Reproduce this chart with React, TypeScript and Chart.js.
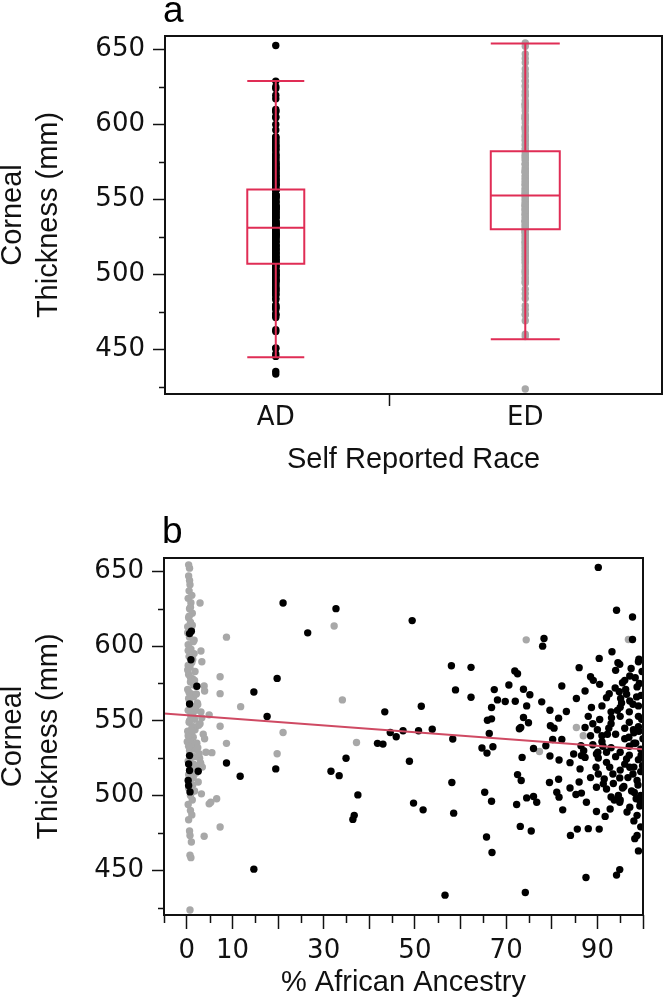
import React, { useEffect, useRef } from 'react';
import { Chart, registerables } from 'chart.js';

Chart.register(...registerables);

// ---------- Panel a: box plot ----------
const categories = ['AD', 'ED'];
const categoryPositions = [1, 2];
const categorySeparator = 1.456;
const boxQ1 = [507, 530];
const boxMedian = [531, 552.5];
const boxQ3 = [556.5, 582];
const whiskerLow = [444.5, 456.5];
const whiskerHigh = [629, 654];

// ---------- shared y axis ----------
const yTickValues = [450, 500, 550, 600, 650];
const yMinorTicks = [425, 475, 525, 575, 625];

// ---------- Panel b: x axis ----------
const xTickValues = [0, 10, 20, 30, 40, 50, 60, 70, 80, 90, 100];
const xTickLabels = [0, 10, 30, 50, 70, 90];
const xMinorTicks = [-5, 5, 15, 25, 35, 45, 55, 65, 75, 85, 95];

// AD (self reported African descent) subjects: % African ancestry, corneal thickness
const adX = [
  21.1, 32.7, 26.5, 0.6, 1.0, 0.9, 19.8, 2.2, 14.7, 0.6, 43.4, 17.6, 44.6, 45.9, 47.4, 41.8, 43, 48.8,
  0.6, 0.4, 0.6, 2.5, 8.7, 34.9, 19.5, 31.6, 33.4, 11.7, 0.3, 0.4, 0.7, 37.5, 36.7, 36.4, 14.7,
  90.2, 49.4, 94.2, 97.7, 78.3, 78.0, 97.7, 58, 62.3, 93.2, 90.4, 99.1, 99, 86, 94.5, 94.9, 94, 71.9,
  72.5, 58.9, 62.3, 51.4, 67.4, 70.6, 73.8, 75.2, 68.1, 69.8, 72, 74.5, 66.8, 77.8, 82.2, 85.4, 87.3,
  88.5, 89.1, 90.5, 88.7, 92, 92.6, 90.5, 94.8, 95.5, 96, 97.1, 98.3, 98.7, 96.4, 97.1, 97.8, 79.6,
  83.2, 81.5, 73.8, 65.9, 66.8, 74.9, 72.9, 73.2, 66.3, 79.7, 80.5, 87.3, 88.5, 80.2, 82.2, 78.7, 76,
  73.5, 64.7, 65.8, 67.1, 58.3, 53.8, 50.8, 79.6, 81.6, 84, 84.8, 86.5, 87.3, 86.4, 89.8, 90.2, 86.2,
  89.7, 90.2, 92, 92.7, 93.4, 94.9, 96.4, 97.1, 97.8, 98.7, 72.5, 73.3, 58.1, 79.5, 81.5, 81.1, 81.6,
  65.3, 66.8, 72.3, 74.5, 76, 76.7, 82.4, 85.3, 86.5, 87.6, 89.8, 91.3, 92, 89.8, 94.9, 97.1, 98.5,
  98.7, 49.7, 51.8, 58.5, 73.1, 75.5, 65.7, 66.9, 84.1, 85.6, 88, 90.4, 98.2, 98.7, 99, 87.5, 94.2,
  94.9, 56.6, 74.2,
  91, 93, 95, 97, 99, 92.5, 94, 96, 98, 99.5, 91, 93, 95, 97, 99, 92, 94, 96, 98, 99.5, 91.5, 93.5,
  95.5, 97.5, 99.5, 93, 95, 96.5, 98, 99.5, 95, 97, 99, 96, 98, 88, 89, 90, 91, 89, 87, 88.5, 86, 84,
  99, 99.6, 100, 97, 93, 95,
  99.8, 99.2, 98.6, 99.7, 99.1, 98.4, 99.6, 99.9, 98.9, 99.3, 97.4, 96.2, 95.3, 94.4, 93.1, 92.2,
  91.2, 90.1, 96.7, 95.8, 94.6, 93.7, 92.8, 91.7, 97.9, 96.9, 99.4, 98.1, 95.1, 93.9,
];
const adY = [
  628.9, 625.1, 608.9, 608.4, 610, 590.9, 578.4, 573.1, 569.3, 561.3, 556, 552.9, 542.2, 539.3, 543.3,
  534.9, 534.4, 522.9, 526.7, 521.1, 516.7, 516.2, 521.8, 524.9, 517.8, 516.2, 513.3, 512.9, 510, 506.7,
  502.4, 500.4, 486.7, 484, 450.7,
  652.7, 617.1, 624, 619.5, 605.1, 600, 604.4, 586.9, 585.8, 596.2, 591.8, 591.3, 589.5, 585.6, 588.9,
  587.8, 583.8, 583.3, 581.5, 570.7, 565.8, 559.8, 570.9, 574, 571.1, 567.5, 564, 562.9, 563.1, 560,
  558.9, 562.7, 573.3, 564.9, 570, 579.5, 577.1, 574.4, 558.9, 565.5, 568.2, 550.9, 569.5, 575.5, 577.1,
  580, 578.9, 572.7, 567.8, 563.3, 561.1, 557.1, 556.2, 551.8, 552.2, 550.4, 551.3, 548.7, 544.7, 545.5,
  541.5, 546.7, 545.1, 545.5, 540, 537.5, 537.5, 533.3, 531.5, 525.5, 531.8, 528.4, 532.6, 537.8, 544.4,
  543.3, 526.4, 523.8, 522, 527.8, 526.7, 525.5, 533.3, 527.8, 525.1, 517.8, 518.9, 514.4, 522.2, 518.9,
  514.4, 511.8, 524.4, 518.9, 514.4, 510, 514, 510, 508.7, 508.7, 510.9, 502.2, 498.9, 502.2, 496.2, 494,
  498.4, 499.3, 495.5, 490.4, 500.7, 501.6, 495.5, 505.5, 507.8, 504.4, 489.3, 495.5, 492.2, 497.8,
  486.7, 494.9, 490.4, 488.2, 479.3, 476.2, 472.2, 461.8, 473.3, 477.5, 477.8, 477.5, 471.1, 473.3,
  462.9, 445.1, 446.7, 450.4, 433.3, 435.1,
  560, 556, 553, 549, 546, 545, 541, 538, 535, 531, 536, 532, 529, 527, 524, 529, 526, 521, 519, 516,
  511, 508, 505, 503, 500, 499, 497, 489, 483, 479, 559, 556, 553, 545, 542, 553, 548, 544, 540, 534,
  530, 512, 509, 505, 560, 567, 538, 533, 548, 517,
  583, 575, 566, 551, 543, 535, 527, 520, 507, 493, 585, 571, 562, 557, 552, 541, 533, 529, 512, 506,
  500, 497, 491, 486, 544, 539, 496, 502, 565, 572,
];

// ED (self reported European descent) subjects
const edX = [
  2.9, 8.7, 3.1, 3.3, 7.3, 3.8, 3.9, 7.3, 11.8, 34.1, 32.3, 4.9, 7.3, 21.1, 8.7, 37.2, 5.5, 19.8, 3.05,
  3.2, 4.9, 5.25, 6.55, 7.3, 3.8, 0.4, 0.6, 0.7, 1, 0.7, 0.9, 0.7, 0.4, 0.6, 0.7,
  74.4, 96.8, 85.4, 86.9, 77.3,
  0.5, 0.3, 0.9, 0.6, 1.2, 0.4, 0.8, 0.2, 1.0, 0.6, 1.4, 0.3, 0.9, 1.6, 0.5, 1.1, 0.7, 1.8, 0.4, 1.3,
  0.8, 2.1, 0.2, 1.0, 1.5, 0.6, 2.4, 1.2, 0.3, 3.1, 0.9, 1.7, 0.5, 2.6, 1.1, 0.2, 3.6, 1.4, 0.7, 2.2,
  0.4, 1.9, 4.2, 0.9, 2.8, 0.3, 1.5, 3.4, 0.7, 2.0, 1.1, 0.5, 2.5, 1.3, 0.4, 1.7, 0.8, 1.2, 0.3, 0.8,
  1.1,
  0.6, 1.0, 0.3, 0.8, 1.5, 0.4, 0.9, 2.0, 1.3, 0.6, 2.9, 1.8, 0.3, 3.9, 1.0, 2.4, 0.6, 1.6, 3.0, 0.9,
  2.2, 0.4, 1.4, 0.8, 0.2, 1.2, 0.5, 0.8, 1.1, 0.6, 0.4,
  1.3, 0.2, 1.7, 0.5, 2.3, 0.9, 1.4, 0.1, 2.7, 0.7, 1.9, 0.4, 3.3, 1.2, 0.6, 2.1, 0.3, 1.6, 0.8, 1.0,
];
const edY = [
  628.9, 606, 596.7, 589.5, 579.5, 573.3, 570, 568.2, 559.5, 564, 613.5, 554, 546.4, 542.2, 534.9, 535.5,
  528.7, 528, 521.1, 501.1, 494.4, 495.5, 497.8, 478.9, 472.7, 483.8, 476.2, 473.3, 468.9, 460, 458.4,
  423.3, 654.4, 652.2, 641.1,
  604.2, 604.4, 545.5, 540, 529.5,
  637, 632, 629, 625, 622, 619, 616, 613, 611, 606, 603, 601, 598, 595, 593, 589, 586, 583, 581, 578,
  576, 573, 571, 568, 566, 563, 561, 559, 557, 556, 553, 551, 549, 547, 545, 543, 541, 539, 537, 535,
  533, 531, 529, 527, 525, 523, 521, 519, 517, 515, 513, 511, 509, 507, 505, 503, 500, 497, 494, 490,
  487,
  598.5, 592, 587, 579, 574, 565, 560, 557, 554, 550, 548, 544, 540, 538, 535, 532, 530, 526, 522, 520,
  518, 514, 512, 508, 609, 614, 620, 626, 634, 644, 647,
  591, 584, 577, 569, 562, 555, 546, 536, 528, 524, 516, 510, 552, 543, 533, 568, 597, 604, 612, 502,
];

// Fitted regression line
const fitX = [-5, 100];
const fitY = [554.9, 531.0];

// ---------- styles ----------
const RED = '#e02d55';
const FIT = '#cf4a63';
const GRAY = '#a8a8a8';
const BLACK = '#000000';
const TICK_FONT = { family: 'DejaVu Sans', size: 26, lineHeight: 1 };
const TITLE_FONT = { family: 'Liberation Sans', size: 29, lineHeight: 1.23 };
const BOX_HALF_PX = [28.5, 34.5];
const POINT_R = 3.7;

const framePlugin = {
  id: 'frame',
  afterDraw(chart: any) {
    const { ctx, chartArea: a } = chart;
    ctx.save();
    ctx.strokeStyle = '#111';
    ctx.lineWidth = 2;
    ctx.strokeRect(a.left, a.top, a.right - a.left, a.bottom - a.top);
    const o = chart.options.plugins.extra || {};
    ctx.lineWidth = 1.5;
    ctx.beginPath();
    const ys = chart.scales.y;
    (o.yMinor || []).forEach((v: number) => {
      const p = Math.round(ys.getPixelForValue(v)) + 0.5;
      ctx.moveTo(a.left, p);
      ctx.lineTo(a.left - (o.yMinorLen || 6), p);
    });
    const xs = chart.scales.x;
    (o.xMinor || []).forEach((v: number) => {
      const p = Math.round(xs.getPixelForValue(v)) + 0.5;
      ctx.moveTo(p, a.bottom);
      ctx.lineTo(p, a.bottom + (o.xMinorLen || 8));
    });
    ctx.stroke();
    if (o.letter) {
      ctx.fillStyle = '#000';
      ctx.font = '37px "Liberation Sans"';
      ctx.textAlign = 'left';
      ctx.textBaseline = 'alphabetic';
      ctx.fillText(o.letter, a.left - 2, o.letterBaseline);
    }
    ctx.restore();
  },
};

const boxPlugin = {
  id: 'boxes',
  afterDatasetsDraw(chart: any) {
    const o = chart.options.plugins.extra || {};
    if (!o.boxes) return;
    const { ctx } = chart;
    const xs = chart.scales.x;
    const ys = chart.scales.y;
    ctx.save();
    ctx.strokeStyle = RED;
    ctx.lineWidth = 2;
    categoryPositions.forEach((c, i) => {
      const cx = xs.getPixelForValue(c);
      const hw = BOX_HALF_PX[i];
      const q1 = ys.getPixelForValue(boxQ1[i]);
      const q3 = ys.getPixelForValue(boxQ3[i]);
      const med = ys.getPixelForValue(boxMedian[i]);
      const lo = ys.getPixelForValue(whiskerLow[i]);
      const hi = ys.getPixelForValue(whiskerHigh[i]);
      ctx.beginPath();
      ctx.rect(cx - hw, q3, hw * 2, q1 - q3);
      ctx.moveTo(cx - hw, med);
      ctx.lineTo(cx + hw, med);
      ctx.moveTo(cx, q3);
      ctx.lineTo(cx, hi);
      ctx.moveTo(cx - hw, hi);
      ctx.lineTo(cx + hw, hi);
      ctx.moveTo(cx, q1);
      ctx.lineTo(cx, lo);
      ctx.moveTo(cx - hw, lo);
      ctx.lineTo(cx + hw, lo);
      ctx.stroke();
    });
    ctx.restore();
  },
};

function yScale(width: number) {
  return {
    type: 'linear',
    min: 420,
    max: 659,
    afterFit: (s: any) => {
      s.width = width;
    },
    afterBuildTicks: (s: any) => {
      s.ticks = yTickValues.map((v) => ({ value: v }));
    },
    border: { display: false },
    grid: {
      display: true,
      drawOnChartArea: false,
      drawTicks: true,
      tickLength: 12,
      tickColor: '#111',
      tickWidth: 1.5,
    },
    ticks: { font: TICK_FONT, color: '#111', padding: 8 },
    title: {
      display: true,
      text: ['Corneal', 'Thickness (mm)'],
      font: TITLE_FONT,
      color: '#111',
      padding: { top: -5, bottom: 0 },
    },
  };
}

function PanelA() {
  const ref = useRef<HTMLCanvasElement>(null);
  useEffect(() => {
    const pts = (vals: number[], pos: number) => vals.map((y) => ({ x: pos, y }));
    const chart = new Chart(ref.current as HTMLCanvasElement, {
      type: 'scatter',
      data: {
        datasets: [
          {
            label: categories[0],
            data: pts(adY, categoryPositions[0]),
            backgroundColor: BLACK,
            borderWidth: 0,
            pointRadius: POINT_R,
          },
          {
            label: categories[1],
            data: pts(edY, categoryPositions[1]),
            backgroundColor: GRAY,
            borderWidth: 0,
            pointRadius: POINT_R,
          },
        ],
      },
      plugins: [boxPlugin, framePlugin],
      options: {
        animation: false,
        responsive: false,
        devicePixelRatio: 1,
        events: [],
        layout: { padding: { top: 36, right: 3, bottom: 0, left: 0 } },
        plugins: {
          legend: { display: false },
          tooltip: { enabled: false },
          extra: { boxes: true, yMinor: yMinorTicks, xMinor: [], letter: 'a', letterBaseline: 22 },
        } as any,
        scales: {
          x: {
            type: 'linear',
            min: 0.556,
            max: 2.548,
            afterFit: (s: any) => {
              s.height = 106;
            },
            afterBuildTicks: (s: any) => {
              s.ticks = [categoryPositions[0], categorySeparator, categoryPositions[1]].map((v) => ({ value: v }));
            },
            border: { display: false },
            grid: {
              display: true,
              drawOnChartArea: false,
              drawTicks: true,
              tickLength: 12,
              tickWidth: 1.5,
              tickColor: (c: any) => (c.tick && c.tick.value === categorySeparator ? '#111' : 'rgba(0,0,0,0)'),
            },
            ticks: {
              autoSkip: false,
              maxRotation: 0,
              font: TICK_FONT,
              color: '#111',
              padding: -1,
              callback: (v: any) => {
                const i = categoryPositions.indexOf(Number(v));
                return i >= 0 ? categories[i] : '';
              },
            },
            title: {
              display: true,
              text: 'Self Reported Race',
              font: TITLE_FONT,
              color: '#111',
              padding: { top: 0, bottom: 22 },
            },
          },
          y: yScale(165),
        } as any,
      },
    } as any);
    return () => chart.destroy();
  }, []);
  return <canvas ref={ref} width={666} height={500} style={{ display: 'block' }} />;
}

function PanelB() {
  const ref = useRef<HTMLCanvasElement>(null);
  useEffect(() => {
    const zip = (xs: number[], ys: number[]) => xs.map((x, i) => ({ x, y: ys[i] }));
    const chart = new Chart(ref.current as HTMLCanvasElement, {
      type: 'scatter',
      data: {
        datasets: [
          {
            label: 'fit',
            data: zip(fitX, fitY),
            showLine: true,
            borderColor: FIT,
            borderWidth: 2,
            pointRadius: 0,
            fill: false,
          },
          {
            label: 'AD',
            data: zip(adX, adY),
            backgroundColor: BLACK,
            borderWidth: 0,
            pointRadius: POINT_R,
          },
          {
            label: 'ED',
            data: zip(edX, edY),
            backgroundColor: GRAY,
            borderWidth: 0,
            pointRadius: POINT_R,
          },
        ],
      },
      plugins: [framePlugin],
      options: {
        animation: false,
        responsive: false,
        devicePixelRatio: 1,
        events: [],
        layout: { padding: { top: 58, right: 23, bottom: 0, left: 0 } },
        plugins: {
          legend: { display: false },
          tooltip: { enabled: false },
          extra: { boxes: false, yMinor: yMinorTicks, xMinor: xMinorTicks, xMinorLen: 8, letter: 'b', letterBaseline: 43 },
        } as any,
        scales: {
          x: {
            type: 'linear',
            min: -5,
            max: 100,
            afterFit: (s: any) => {
              s.height = 89;
            },
            afterBuildTicks: (s: any) => {
              s.ticks = xTickValues.map((v) => ({ value: v }));
            },
            border: { display: false },
            grid: {
              display: true,
              drawOnChartArea: false,
              drawTicks: true,
              tickLength: 14,
              tickWidth: 1.5,
              tickColor: '#111',
            },
            ticks: {
              autoSkip: false,
              maxRotation: 0,
              font: TICK_FONT,
              color: '#111',
              padding: 9,
              callback: (v: any) => (xTickLabels.indexOf(Number(v)) >= 0 ? String(v) : ''),
            },
            title: {
              display: true,
              text: '% African Ancestry',
              font: TITLE_FONT,
              color: '#111',
              padding: { top: 0, bottom: 3 },
            },
          },
          y: yScale(164),
        } as any,
      },
    } as any);
    return () => chart.destroy();
  }, []);
  return <canvas ref={ref} width={666} height={504} style={{ display: 'block' }} />;
}

export default function App() {
  return (
    <div style={{ position: 'absolute', left: 0, top: 0, width: 666, height: 1004, background: '#fff' }}>
      <PanelA />
      <PanelB />
    </div>
  );
}
